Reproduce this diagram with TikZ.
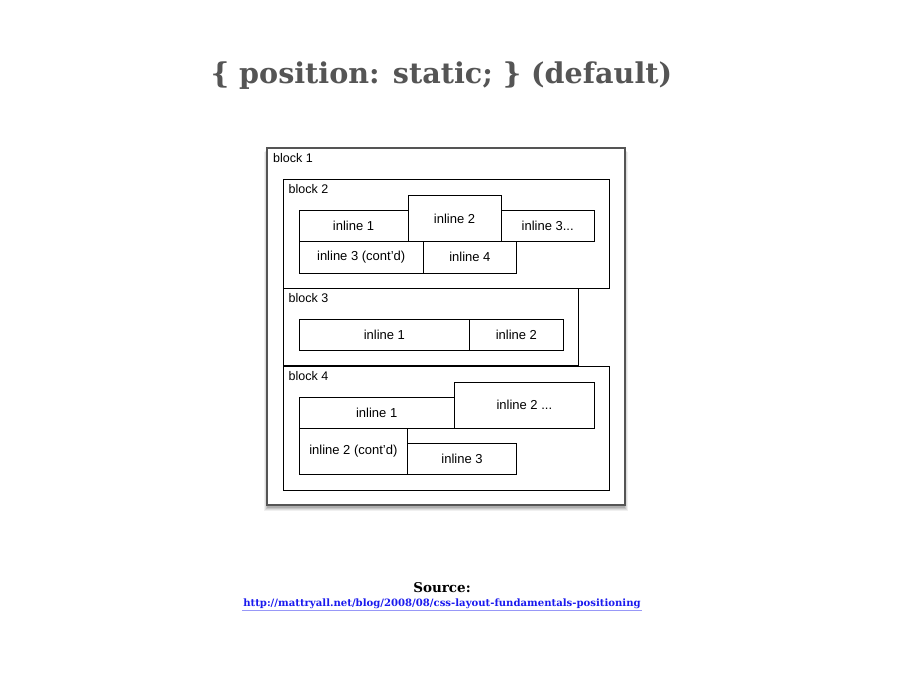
\documentclass[tikz,border=0pt]{standalone}
\usepackage{fontspec}
\setmainfont{Liberation Sans}
\newfontfamily\slabfont{DejaVu Serif}
\usetikzlibrary{positioning}
\definecolor{titlegray}{HTML}{555555}
\definecolor{linkblue}{HTML}{1A1AEE}
\tikzset{
  blockbox/.style={draw=black, line width=0.8pt, fill=white},
  blocklabel/.style={anchor=north west, inner sep=0pt, font=\fontsize{12.5}{14}\selectfont},
  inlinebox/.style={draw=black, line width=0.7pt, fill=white, inner sep=0pt,
    font=\fontsize{13}{15}\selectfont, anchor=north west}
}
\begin{document}
\begin{tikzpicture}[x=1pt,y=-1pt]
\useasboundingbox (0,0) rectangle (900,700);
\newcommand{\inl}[6]{% name, left, top, right, bottom, text
  \node[inlinebox, minimum width={#4-#2}, minimum height={#5-#3}] (#1) at (#2,#3) {#6};}

% title
\node[font=\slabfont\bfseries\fontsize{28.6}{33}\selectfont, text=titlegray] (title) at (441.5,76) {\{ position: static; \} (default)};

% block 1 with its shadow
\foreach \s/\o in {5/0.06,4/0.08,3/0.10,2/0.12}
  \fill[black, opacity=\o] (267-\s+2,148+\s-1) rectangle (625+\s-2,505+\s+1);
\draw[fill=white, draw=titlegray, line width=1.4pt] (267,148) rectangle (625,505);
\node[blocklabel] (lblone) at (273,153.5) {block 1};

% block 2
\draw[blockbox] (283.3,179.3) rectangle (609.3,288);
\node[blocklabel] (lbltwo) at (288.5,184.5) {block 2};
\inl{bIIa}{298.7}{210.3}{407.7}{241}{inline 1}
\inl{bIIc}{500.7}{210.3}{594}{241}{inline 3...}
\inl{bIIb}{407.7}{195.3}{500.7}{241}{inline 2}
\inl{bIId}{298.7}{241}{423}{272.7}{inline 3 (cont'd)}
\inl{bIIe}{423}{241}{516}{272.7}{inline 4}

% block 3
\draw[blockbox] (283.3,288) rectangle (578.3,365.3);
\node[blocklabel] (lblthree) at (288.5,293.5) {block 3};
\inl{bIIIa}{298.7}{319.3}{469.3}{350.3}{inline 1}
\inl{bIIIb}{469.3}{319.3}{562.7}{350.3}{inline 2}

% block 4
\draw[blockbox] (283.3,366) rectangle (609.3,490.3);
\node[blocklabel] (lblfour) at (288.5,371) {block 4};
\inl{bIVa}{298.7}{397}{454}{427.7}{inline 1}
\inl{bIVb}{454}{381.7}{594}{427.7}{inline 2 ...}
\inl{bIVd}{407.3}{443.3}{516}{474.3}{inline 3}
\inl{bIVc}{298.7}{427.7}{407.3}{474.3}{inline 2 (cont'd)}

% source
\node[font=\slabfont\bfseries\fontsize{13.5}{15}\selectfont] (src) at (442,588) {Source:};
\node[font=\slabfont\bfseries\fontsize{10.1}{12}\selectfont, text=linkblue, inner sep=1pt] (url) at (442,604) {http://mattryall.net/blog/2008/08/css-layout-fundamentals-positioning};
\draw[linkblue!45, line width=0.8pt] ([yshift=-0.5pt]url.south west) -- ([yshift=-0.5pt]url.south east);
\end{tikzpicture}
\end{document}
